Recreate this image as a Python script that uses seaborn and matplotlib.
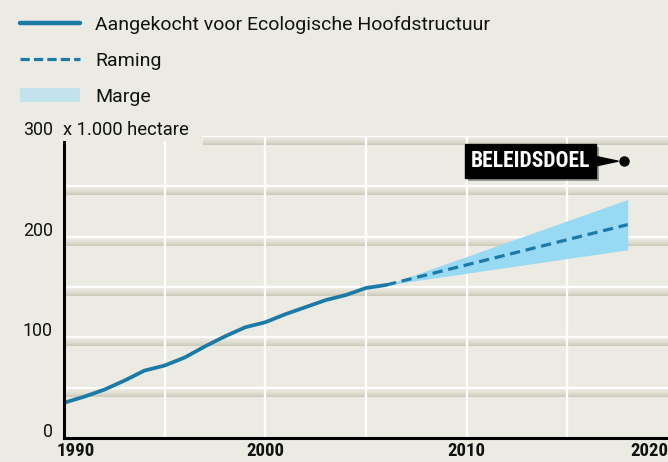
import numpy as np
import matplotlib
matplotlib.use("Agg")
import matplotlib.pyplot as plt
import matplotlib.font_manager as fm
import matplotlib.patheffects as pe
from matplotlib.colors import LinearSegmentedColormap
from matplotlib.lines import Line2D
from matplotlib.patches import Patch
import seaborn as sns

# ---------------- data ----------------
years = [1990, 1991, 1992, 1993, 1994, 1995, 1996, 1997, 1998, 1999,
         2000, 2001, 2002, 2003, 2004, 2005, 2006]
aangekocht = [35, 41, 48, 57, 67, 72, 80, 91, 101, 110,
              115, 123, 130, 137, 142, 149, 152]
raming_years = [2006, 2018]
raming = [152, 212]
marge_low = [152, 187]
marge_high = [152, 237]
doel_year = 2017.8
doel_value = 275
xtick_values = [1990, 2000, 2010, 2020]
xtick_labels = ["1990", "2000", "2010", "2020"]
ytick_values = [0, 100, 200, 300]
ytick_labels = ["0", "100", "200", "300"]
grid_levels = [50, 100, 150, 200, 250, 300]
vgrid_years = [1995, 2000, 2005, 2010, 2015]
legend_labels = ["Aangekocht voor Ecologische Hoofdstructuur", "Raming", "Marge"]
unit_label = "x 1.000 hectare"
doel_label = "BELEIDSDOEL"

# ---------------- style ----------------
BG = "#ECEBE3"
SHADOW = "#CBC8B6"
LINE = "#1B7AA6"
BAND = "#98D9F4"
LEG_BAND = "#C2E2EE"

sns.set_theme(style="white")
names = {f.name for f in fm.fontManager.ttflist}
fam = [n for n in ["Roboto Condensed", "Liberation Sans Narrow", "Open Sans Condensed"] if n in names]
COND = fam + ["Roboto", "DejaVu Sans"]
REG = ["Roboto", "DejaVu Sans"]
plt.rcParams["font.family"] = REG

fig = plt.figure(figsize=(6.68, 4.62), dpi=100, facecolor=BG)
W, H = 668, 462
ax = fig.add_axes([64 / W, 24 / H, 604 / W, 302 / H])
ax.set_facecolor(BG)

# shadows above each gridline
cmap = LinearSegmentedColormap.from_list("sh", [BG, SHADOW])
grad = np.linspace(1, 0, 40).reshape(-1, 1) ** 2.0
header_start = 1996.9
for lv in grid_levels:
    x0 = header_start if lv == 300 else 1990
    ax.imshow(grad, cmap=cmap, vmin=0, vmax=1, origin="lower", aspect="auto",
              extent=[x0, 2020, lv - 9, lv], zorder=0.5, interpolation="bilinear")
    ax.axhline(lv, xmin=(x0 - 1990) / 30, xmax=1, color="white", lw=1.6, zorder=1)
ax.vlines(vgrid_years, 0, 300, colors="white", lw=1.6, zorder=1.2)

# band + lines
ax.fill_between(raming_years, marge_low, marge_high, color=BAND, lw=0, zorder=2)
sns.lineplot(x=years, y=aangekocht, ax=ax, color=LINE, lw=2.7, zorder=3)
sns.lineplot(x=raming_years, y=raming, ax=ax, color=LINE, lw=2.3, zorder=3,
             linestyle=(0, (3.2, 1.8)))
ax.plot([doel_year], [doel_value], "o", color="black", ms=6.5, zorder=4)

ann = ax.annotate(doel_label, xy=(doel_year, doel_value), xytext=(-24, 0),
                  textcoords="offset points", ha="right", va="center",
                  color="white", fontsize=15.5, fontweight="bold", family=COND,
                  bbox=dict(boxstyle="square,pad=0.28", fc="black", ec="black"),
                  arrowprops=dict(arrowstyle="wedge,tail_width=0.42,shrink_factor=0.5",
                                  fc="black", ec="black", shrinkA=0, shrinkB=4),
                  zorder=5)
ann.get_bbox_patch().set_path_effects([pe.SimplePatchShadow(offset=(2, -2), alpha=0.35), pe.Normal()])

ax.set_xlim(1990, 2020)
ax.set_ylim(0, 300)
ax.set_xticks([])
ax.set_yticks([])
for s in ["top", "right"]:
    ax.spines[s].set_visible(False)
for s in ["left", "bottom"]:
    ax.spines[s].set_color("black")
    ax.spines[s].set_linewidth(2.2)
    ax.spines[s].set_zorder(6)
ax.spines["left"].set_bounds(0, 294)

# tick labels
for v, lab in zip(xtick_values, xtick_labels):
    ha, dx = "center", 0
    if v == xtick_values[0]:
        ha, dx = "left", -5
    elif v == xtick_values[-1]:
        ha, dx = "right", 0
    ax.annotate(lab, xy=(v, 0), xycoords=("data", "axes fraction"), xytext=(dx, -3),
                textcoords="offset points", ha=ha, va="top", fontsize=13.5,
                fontweight="bold", family=COND, color="#111111", annotation_clip=False)
for v, lab in zip(ytick_values, ytick_labels):
    ax.annotate(lab, xy=(0, v), xycoords=("axes fraction", "data"), xytext=(-8, 4.3),
                textcoords="offset points", ha="right", va="center", fontsize=12.8,
                color="#111111", annotation_clip=False)
ax.annotate(unit_label, xy=(0, 300), xycoords=("axes fraction", "data"), xytext=(-1, 4.3),
            textcoords="offset points", ha="left", va="center", fontsize=13.2,
            color="#111111", annotation_clip=False,
            bbox=dict(boxstyle="square,pad=0.12", fc=BG, ec="none"), zorder=7)

# legend
handles = [Line2D([], [], color=LINE, lw=3.2),
           Line2D([], [], color=LINE, lw=2.3, linestyle=(0, (2.9, 1.3))),
           Patch(facecolor=LEG_BAND, edgecolor="none")]
fig.legend(handles, legend_labels, loc="upper left", bbox_to_anchor=(20 / W, 1 - 16 / H),
           frameon=False, fontsize=14, handlelength=3.1, handleheight=0.75,
           handletextpad=0.78, labelspacing=0.92, borderpad=0, borderaxespad=0,
           labelcolor="#111111")

fig.savefig("out.png", dpi=100, facecolor=BG)
